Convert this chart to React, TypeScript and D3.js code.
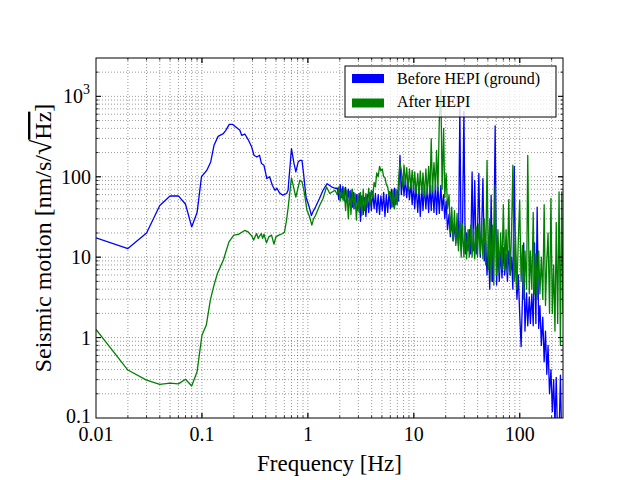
import React from 'react';
import * as d3 from 'd3';

const W = 640;
const H = 480;
const LEFT = 96, RIGHT = 563, TOP = 58, BOTTOM = 418;

// Low-frequency part (sparse, smooth)
const lowFreqBefore = [0.01, 0.02, 0.03, 0.04, 0.05, 0.06, 0.07, 0.08, 0.09, 0.099, 0.111, 0.121, 0.13, 0.142, 0.159, 0.168, 0.181, 0.194, 0.209, 0.228, 0.237, 0.254, 0.273, 0.295, 0.31, 0.33, 0.35, 0.365, 0.385, 0.41, 0.435, 0.463, 0.489, 0.51, 0.54, 0.58, 0.63, 0.65, 0.7, 0.74, 0.77, 0.81, 0.84, 0.88, 0.91, 0.96, 1.03, 1.08, 1.13, 1.18, 1.29, 1.39, 1.52, 1.67, 1.8];
const lowAmpBefore = [17.4, 12.8, 20, 44, 57.7, 58, 45.5, 23.8, 35.9, 100, 120, 153, 246, 318, 344, 378, 449, 449, 416, 378, 328, 340, 290, 234, 185, 176, 185, 146, 139, 95, 100, 78, 68, 72, 63, 59, 62, 68, 224, 146, 115, 153, 160, 160, 110, 56, 42, 33, 38, 42, 54, 68, 82, 75, 72];

const lowFreqAfter = [0.01, 0.02, 0.03, 0.04, 0.05, 0.06, 0.07, 0.08, 0.09, 0.1, 0.11, 0.12, 0.13, 0.14, 0.15, 0.16, 0.17, 0.18, 0.19, 0.2, 0.221, 0.24, 0.253, 0.273, 0.296, 0.307, 0.328, 0.34, 0.363, 0.374, 0.385, 0.407, 0.428, 0.454, 0.478, 0.499, 0.532, 0.58, 0.602, 0.629, 0.652, 0.7, 0.77, 0.84, 0.88, 0.93, 0.98, 1.04, 1.09, 1.13, 1.18, 1.29, 1.39, 1.5, 1.61, 1.8];
const lowAmpAfter = [1.26, 0.395, 0.296, 0.262, 0.271, 0.266, 0.303, 0.25, 0.376, 1.07, 1.43, 2.92, 4.49, 6.27, 7.73, 9.35, 12.2, 15.5, 17.1, 18.8, 19.2, 20.6, 21.5, 20.6, 18.3, 16.3, 19.7, 17.1, 19.7, 17.1, 19.3, 15.1, 17.9, 18.8, 14.5, 17.9, 18.8, 19.7, 20.6, 28.8, 42, 96.7, 56, 90.6, 87, 61.8, 38.3, 31.6, 25, 30, 33, 44, 53.6, 74.7, 62, 68];

// High-frequency part (dense, noisy) – shared frequency bins
const noiseFreqs = [1.90, 1.96, 2.02, 2.08, 2.14, 2.20, 2.27, 2.34, 2.41, 2.48,
  2.55, 2.63, 2.71, 2.79, 2.87, 2.96, 3.05, 3.14, 3.23, 3.33,
  3.43, 3.53, 3.64, 3.75, 3.86, 3.97, 4.09, 4.22, 4.34, 4.47,
  4.61, 4.75, 4.89, 5.04, 5.19, 5.34, 5.50, 5.67, 5.84, 6.01,
  6.19, 6.38, 6.57, 6.77, 6.97, 7.18, 7.40, 7.62, 7.85, 8.08,
  8.32, 8.57, 8.83, 9.10, 9.37, 9.65, 9.94, 10.2, 10.5, 10.9,
  11.2, 11.5, 11.9, 12.2, 12.6, 13.0, 13.4, 13.8, 14.2, 14.6,
  15.0, 15.5, 16.0, 16.4, 16.9, 17.4, 18.0, 18.5, 19.1, 19.6,
  20.2, 20.8, 21.5, 22.1, 22.8, 23.5, 24.2, 24.9, 25.6, 26.4,
  27.2, 28.0, 28.8, 29.7, 30.6, 31.5, 32.5, 33.4, 34.4, 35.5,
  36.5, 37.6, 38.8, 39.9, 41.1, 42.4, 43.6, 44.9, 46.3, 47.7,
  49.1, 50.6, 52.1, 53.7, 55.3, 56.9, 58.6, 60.4, 62.2, 64.1,
  66.0, 68.0, 70.0, 72.1, 74.3, 76.5, 78.8, 81.2, 83.6, 86.1,
  88.7, 91.3, 94.1, 96.9, 99.8, 103, 106, 109, 112, 116,
  119, 123, 126, 130, 134, 138, 142, 146, 151, 155,
  160, 165, 170, 175, 180, 185, 191, 197, 203, 209,
  215, 221, 228, 235, 242, 249, 256];

const noiseBefore = [72, 52, 80, 55, 76, 50, 74, 48, 70, 45,
  68, 42, 64, 40, 60, 38, 62, 28, 58, 34,
  55, 32, 60, 36, 64, 38, 66, 40, 62, 36,
  60, 34, 58, 38, 64, 32, 60, 36, 66, 40,
  70, 42, 72, 45, 68, 50, 185, 60, 100, 58,
  95, 55, 90, 52, 85, 45, 80, 40, 78, 36,
  75, 32, 74, 38, 76, 40, 72, 36, 78, 38,
  80, 36, 82, 34, 75, 35, 78, 38, 60, 30,
  50, 22, 34, 18, 28, 16, 26, 15, 24, 14,
  700, 12, 22, 650, 11, 20, 12, 22, 11, 115,
  12, 90, 11, 20, 110, 10, 20, 95, 9, 16,
  6, 15, 4, 59, 5, 14, 430, 4.5, 13, 5,
  12, 5.5, 13, 6, 11, 5, 12, 6, 10, 4,
  135, 8, 3, 6, 2, 0.77, 3, 15, 1.2, 3.6,
  1.4, 3.2, 1.5, 3.5, 1.4, 15, 1.5, 42, 1.3, 2.5,
  0.8, 1.8, 0.5, 1.2, 0.35, 0.8, 0.2, 0.4, 0.12, 0.3,
  0.08, 0.32, 0.05, 0.06, 0.34, 0.05, 0.05];

const noiseAfter = [60, 75, 50, 70, 52, 72, 38, 68, 30, 66,
  34, 70, 40, 62, 29, 60, 36, 64, 33, 70,
  38, 62, 42, 72, 44, 68, 55, 85, 75, 112,
  100, 135, 118, 125, 100, 98, 80, 75, 58, 65,
  42, 68, 40, 70, 45, 90, 150, 120, 75, 140,
  80, 130, 70, 125, 72, 120, 68, 115, 62, 110,
  60, 118, 62, 112, 58, 125, 60, 135, 62, 298,
  65, 150, 70, 213, 68, 500, 1200, 70, 400, 55,
  110, 40, 60, 20, 42, 16, 38, 14, 35, 12,
  28, 10, 26, 10, 24, 9.5, 22, 10, 25, 10,
  22, 9.5, 24, 10, 26, 11, 28, 9.5, 30, 8,
  160, 7, 30, 5, 25, 4.5, 78, 6, 22, 6.5,
  20, 7, 45, 7, 22, 6.5, 52, 6, 20, 139,
  5, 18, 4, 16, 51, 5, 14, 3, 12, 4,
  185, 3.5, 12, 4, 36, 3.5, 11, 3, 12, 3.5,
  10, 3, 45, 2.5, 9, 20, 2, 54, 2, 8,
  1.2, 27, 1.5, 65, 0.8, 65, 2];

const xMajorTicks = [0.01, 0.1, 1, 10, 100];
const xTickLabels = ['0.01', '0.1', '1', '10', '100'];
const yMajorTicks = [0.1, 1, 10, 100, 1000];
const yTickLabels = ['0.1', '1', '10', '100', '10^3'];

const seriesNames = ['Before HEPI (ground)', 'After HEPI'];
const seriesColors = ['#0000ff', '#008000'];

const FONT = "'Liberation Serif', 'DejaVu Serif', serif";

export default function App() {
  const x = d3.scaleLog().domain([0.01, 256]).range([LEFT, RIGHT]);
  const y = d3.scaleLog().domain([0.1, 3000]).range([BOTTOM, TOP]);

  const before: [number, number][] = lowFreqBefore.map((f, i) => [f, lowAmpBefore[i]] as [number, number])
    .concat(noiseFreqs.map((f, i) => [f, noiseBefore[i]] as [number, number]));
  const after: [number, number][] = lowFreqAfter.map((f, i) => [f, lowAmpAfter[i]] as [number, number])
    .concat(noiseFreqs.map((f, i) => [f, noiseAfter[i]] as [number, number]));

  const line = d3.line<[number, number]>().x(d => x(d[0])).y(d => y(d[1]));

  const xMinor: number[] = [];
  for (let e = -2; e <= 2; e++) for (let m = 1; m <= 9; m++) {
    const v = +(m * Math.pow(10, e)).toPrecision(3);
    if (v > 0.01 && v < 256) xMinor.push(v);
  }
  const yMinor: number[] = [];
  for (let e = -1; e <= 3; e++) for (let m = 1; m <= 9; m++) {
    const v = +(m * Math.pow(10, e)).toPrecision(3);
    if (v > 0.1 && v < 3000) yMinor.push(v);
  }
  const isMajor = (v: number) => Math.abs(Math.log10(v) - Math.round(Math.log10(v))) < 1e-6;

  return (
    <svg width={W} height={H} style={{ position: 'absolute', left: 0, top: 0, background: '#fff' }} fontFamily={FONT}>
      <defs>
        <clipPath id="plotClip">
          <rect x={LEFT} y={TOP} width={RIGHT - LEFT} height={BOTTOM - TOP} />
        </clipPath>
      </defs>
      <rect x={0} y={0} width={W} height={H} fill="#fff" />
      {/* grid */}
      <g stroke="#555" strokeWidth={0.6} strokeDasharray="1,2">
        {xMinor.map(v => (
          <line key={'gx' + v} x1={x(v)} x2={x(v)} y1={TOP} y2={BOTTOM} />
        ))}
        {yMinor.map(v => (
          <line key={'gy' + v} x1={LEFT} x2={RIGHT} y1={y(v)} y2={y(v)} />
        ))}
      </g>
      {/* data */}
      <g clipPath="url(#plotClip)" fill="none" strokeLinejoin="round">
        <path d={line(before) || ''} stroke={seriesColors[0]} strokeWidth={1.3} />
        <path d={line(after) || ''} stroke={seriesColors[1]} strokeWidth={1.3} />
      </g>
      {/* ticks */}
      <g stroke="#000" strokeWidth={0.8}>
        {xMinor.concat(xMajorTicks.filter(v => v > 0.01)).map(v => {
          const len = isMajor(v) ? 5 : 2.5;
          return (
            <g key={'tx' + v}>
              <line x1={x(v)} x2={x(v)} y1={BOTTOM} y2={BOTTOM - len} />
              <line x1={x(v)} x2={x(v)} y1={TOP} y2={TOP + len} />
            </g>
          );
        })}
        {yMinor.concat(yMajorTicks.filter(v => v > 0.1)).map(v => {
          const len = isMajor(v) ? 5 : 2.5;
          return (
            <g key={'ty' + v}>
              <line x1={LEFT} x2={LEFT + len} y1={y(v)} y2={y(v)} />
              <line x1={RIGHT} x2={RIGHT - len} y1={y(v)} y2={y(v)} />
            </g>
          );
        })}
      </g>
      {/* frame */}
      <rect x={LEFT} y={TOP} width={RIGHT - LEFT} height={BOTTOM - TOP} fill="none" stroke="#000" strokeWidth={1} />
      {/* tick labels */}
      <g fontSize={20} fill="#000">
        {xMajorTicks.map((v, i) => (
          <text key={'lx' + v} x={x(v)} y={441} textAnchor="middle">{xTickLabels[i]}</text>
        ))}
        {yMajorTicks.map((v, i) => {
          const lab = yTickLabels[i];
          if (lab.includes('^')) {
            const [b, p] = lab.split('^');
            return (
              <text key={'ly' + v} x={90} y={y(v) + 7} textAnchor="end">{b}<tspan dy={-9} fontSize={14}>{p}</tspan></text>
            );
          }
          return <text key={'ly' + v} x={91} y={y(v) + (i === 0 ? 5 : 7)} textAnchor="end">{lab}</text>;
        })}
      </g>
      {/* axis titles */}
      <text x={(LEFT + RIGHT) / 2} y={471} textAnchor="middle" fontSize={23}>Frequency [Hz]</text>
      <text transform={`translate(51,${(TOP + BOTTOM) / 2}) rotate(-90)`} textAnchor="middle" fontSize={24}>
        Seismic motion [nm/s/<tspan fontSize={28}>√</tspan><tspan style={{ textDecoration: 'overline' }}>Hz</tspan>]
      </text>
      {/* legend */}
      <g>
        <rect x={345} y={66} width={211} height={51} fill="#fff" fillOpacity={0.8} stroke="#000" strokeWidth={1} />
        {seriesNames.map((name, i) => (
          <g key={name}>
            <rect x={352} y={74 + i * 24.5} width={32} height={9} fill={seriesColors[i]} />
            <text x={397} y={84 + i * 23} fontSize={16}>{name}</text>
          </g>
        ))}
      </g>
    </svg>
  );
}
